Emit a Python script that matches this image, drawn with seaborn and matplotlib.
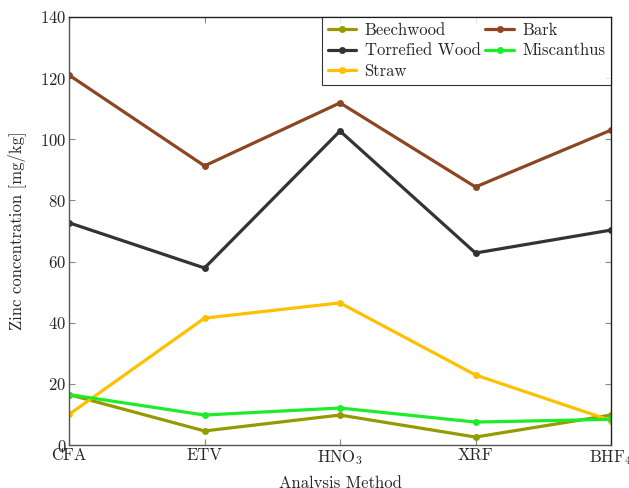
"""
Zinc concentration per analysis method, line chart.
"""

import pandas as pd
import matplotlib
matplotlib.use("Agg")
import matplotlib.pyplot as plt
import seaborn as sns

methods = ["CFA", "ETV", "HNO$_3$", "XRF", "BHF$_4$"]

beechwood = [16.5, 4.6, 9.8, 2.6, 9.8]
torrefied_wood = [72.7, 57.9, 102.7, 62.8, 70.3]
straw = [10.0, 41.5, 46.5, 22.9, 8.0]
bark = [121.0, 91.3, 111.9, 84.4, 103.0]
miscanthus = [16.5, 9.8, 12.1, 7.5, 8.4]

series = {
    "Beechwood": beechwood,
    "Torrefied Wood": torrefied_wood,
    "Straw": straw,
    "Bark": bark,
    "Miscanthus": miscanthus,
}
colors = {
    "Beechwood": "#949a00",
    "Torrefied Wood": "#333333",
    "Straw": "#ffc000",
    "Bark": "#8c4622",
    "Miscanthus": "#1eec2a",
}

rows = []
for name, vals in series.items():
    for i, v in enumerate(vals):
        rows.append({"pos": i, "method": methods[i], "sample": name, "zinc": v})
df = pd.DataFrame(rows)

sns.set_style("ticks")
plt.rcParams["font.family"] = ["cmr10", "DejaVu Serif"]
plt.rcParams["mathtext.fontset"] = "cm"
plt.rcParams["axes.formatter.use_mathtext"] = True
plt.rcParams["font.size"] = 12

fig = plt.figure(figsize=(6.29, 4.88), dpi=100)
ax = fig.add_axes([0.1097, 0.0881, 0.8617, 0.8771])

sns.lineplot(data=df, x="pos", y="zinc", hue="sample", hue_order=list(series.keys()),
             palette=colors, marker="o", markersize=5, markeredgewidth=0,
             linewidth=2.3, ax=ax)

ax.set_xlim(0, 4)
ax.set_ylim(0, 140)
ax.set_xticks(range(len(methods)))
ax.set_xticklabels(methods)
ax.set_yticks(range(0, 141, 20))
ax.tick_params(direction="in", top=True, right=True, length=4, color="#888888",
               labelsize=12, pad=2)
for s in ax.spines.values():
    s.set_linewidth(1.0)
    s.set_color("#222222")
ax.spines["left"].set_color("#555555")
ax.spines["bottom"].set_color("#555555")

ax.set_xlabel("Analysis Method", fontsize=12, labelpad=6)
ax.set_ylabel("Zinc concentration [mg/kg]", fontsize=12, labelpad=10)

leg = ax.legend(loc="upper right", ncol=2, frameon=True, fancybox=False,
                borderaxespad=0, fontsize=12, handlelength=1.7,
                columnspacing=0.3, labelspacing=0.3, handletextpad=0.5,
                borderpad=0.35)
leg.get_frame().set_edgecolor("black")
leg.get_frame().set_linewidth(0.8)

fig.savefig("out.png", dpi=100)
